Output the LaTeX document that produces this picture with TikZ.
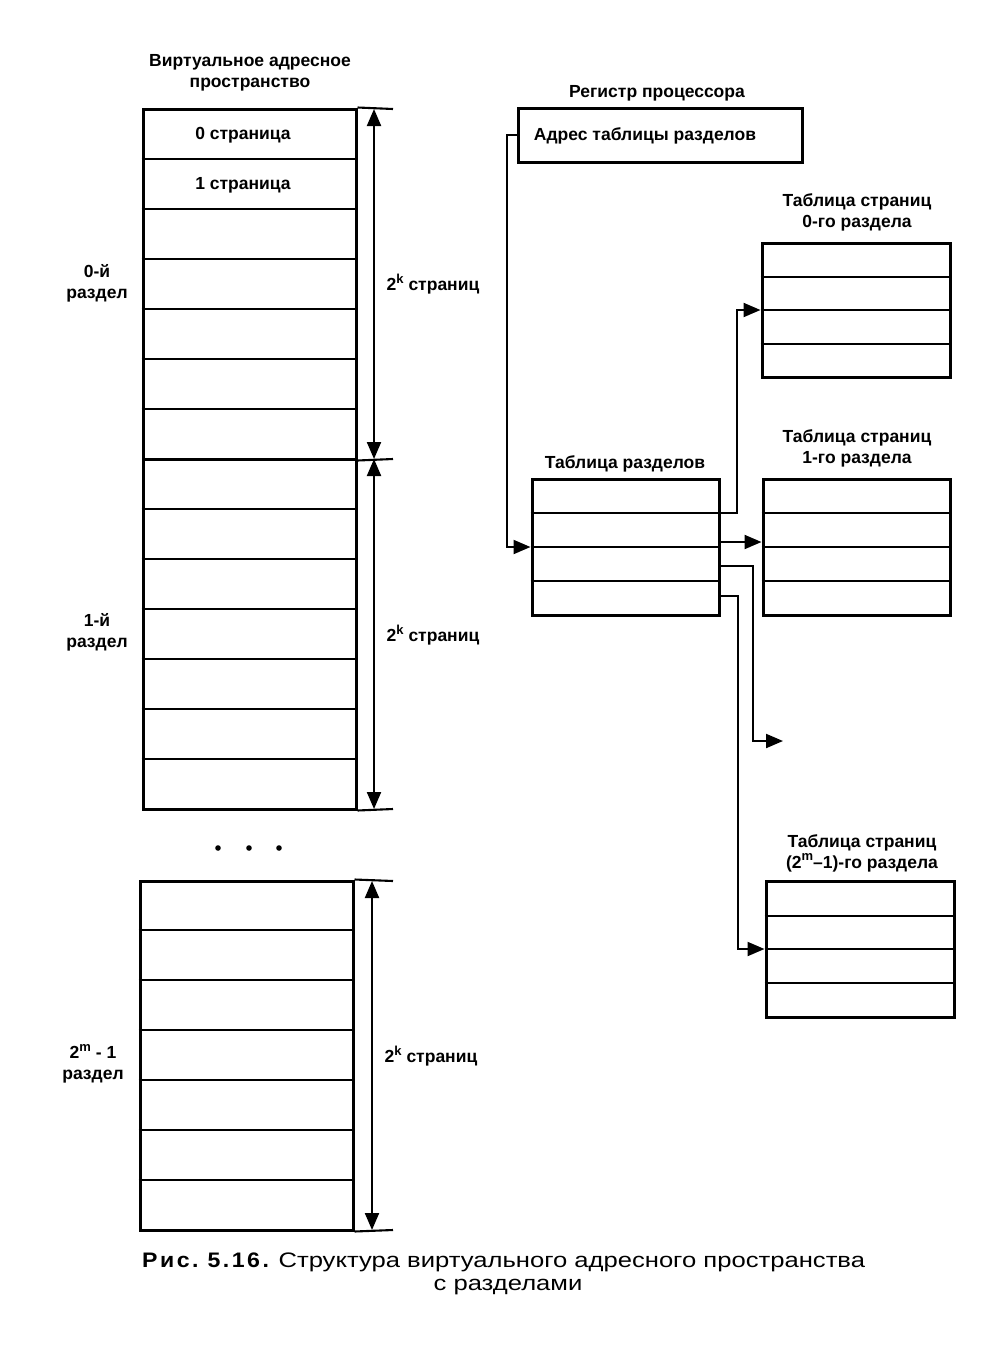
\documentclass[tikz,border=0pt]{standalone}
\usepackage{fontspec}
\setmainfont{Liberation Sans}
\newfontfamily\lblfont{Liberation Sans Bold}
\newfontfamily\capfont[FakeStretch=1.22]{Liberation Sans}
\newfontfamily\capboldfont[FakeStretch=1.1,LetterSpace=12]{Liberation Sans Bold}
\newcommand{\supk}[1]{\raisebox{0.42em}{\fontsize{13}{13}\selectfont #1}}
\usetikzlibrary{arrows.meta}
\begin{document}
\begin{tikzpicture}[x=1pt,y=-1pt,
  box/.style={draw, line width=3pt, inner sep=0pt},
  rowline/.style={line width=2.1pt},
  tick/.style={line width=2.1pt},
  conn/.style={line width=2.1pt, -{Triangle[length=17pt,width=14pt]}},
  dim/.style={line width=2.1pt, {Triangle[length=17pt,width=14pt]}-{Triangle[length=17pt,width=14pt]}},
  lbl/.style={font=\lblfont\fontsize{17.5}{21}\selectfont, align=center, inner sep=0pt},
  caplbl/.style={font=\capfont\fontsize{21}{25}\selectfont, inner sep=0pt},
  dotmark/.style={fill=black}
]
\useasboundingbox (0,0) rectangle (1003,1368);

% ---------- virtual address space ----------
\node[lbl] (vastitle) at (250,73) {Виртуальное адресное\\пространство};

\node[box, minimum width=213pt, minimum height=350pt] (p0) at (249.5,284) {};
\node[box, minimum width=213pt, minimum height=350pt] (p1) at (249.5,634) {};
\node[box, minimum width=213pt, minimum height=349pt] (pl) at (246.5,1055.5) {};

\foreach \yy in {159,209,259,309,359,409}
  \draw[rowline] (p0.west |- 0,\yy) -- (p0.east |- 0,\yy);
\foreach \yy in {509,559,609,659,709,759}
  \draw[rowline] (p1.west |- 0,\yy) -- (p1.east |- 0,\yy);
\foreach \yy in {930,980,1030,1080,1130,1180}
  \draw[rowline] (pl.west |- 0,\yy) -- (pl.east |- 0,\yy);

\node[lbl] (pg0) at (243,135) {0 страница};
\node[lbl] (pg1) at (243,185) {1 страница};

\node[lbl] (lab0) at (97,283) {0-й\\раздел};
\node[lbl] (lab1) at (97,632) {1-й\\раздел};
\node[lbl] (labl) at (93,1064) {2\supk{m} - 1\\раздел};

% ticks
\coordinate (t0a) at (393,109);
\coordinate (t0b) at (393,459);
\coordinate (t1b) at (393,809);
\coordinate (tla) at (393,881);
\coordinate (tlb) at (393,1230);
\draw[tick] (p0.north east) -- (t0a);
\draw[tick] (p0.south east) -- (t0b);
\draw[tick] (p1.south east) -- (t1b);
\draw[tick] (pl.north east) -- (tla);
\draw[tick] (pl.south east) -- (tlb);

% dimension arrows
\coordinate (d0a) at (374,109);
\coordinate (d0b) at (374,459);
\coordinate (d1a) at (374,459);
\coordinate (d1b) at (374,809);
\coordinate (dla) at (372,881);
\coordinate (dlb) at (372,1230);
\draw[dim] (d0a) -- (d0b);
\draw[dim] (d1a) -- (d1b);
\draw[dim] (dla) -- (dlb);

\node[lbl] (k0) at (433,284) {2\supk{k} страниц};
\node[lbl] (k1) at (433,635) {2\supk{k} страниц};
\node[lbl] (kl) at (431,1056) {2\supk{k} страниц};

% dots
\fill[dotmark] (218,848) circle (2.8);
\fill[dotmark] (249,848) circle (2.8);
\fill[dotmark] (279,848) circle (2.8);

% ---------- register ----------
\node[lbl] (regtitle) at (657,93) {Регистр процессора};
\node[box, minimum width=284pt, minimum height=54pt] (reg) at (660,135) {};
\node[lbl] (regtxt) at (645,136) {Адрес таблицы разделов};

% ---------- partition table ----------
\node[lbl] (pttitle) at (625,464) {Таблица разделов};
\node[box, minimum width=187pt, minimum height=136pt] (pt) at (625.5,547) {};
\foreach \yy in {513,547,581}
  \draw[rowline] (pt.west |- 0,\yy) -- (pt.east |- 0,\yy);

% ---------- page tables ----------
\node[lbl] (t0title) at (857,212) {Таблица страниц\\0-го раздела};
\node[box, minimum width=188pt, minimum height=134pt] (t0) at (856,310) {};
\foreach \yy in {277,310,344}
  \draw[rowline] (t0.west |- 0,\yy) -- (t0.east |- 0,\yy);

\node[lbl] (t1title) at (857,448) {Таблица страниц\\1-го раздела};
\node[box, minimum width=187pt, minimum height=136pt] (t1) at (856.5,547) {};
\foreach \yy in {513,547,581}
  \draw[rowline] (t1.west |- 0,\yy) -- (t1.east |- 0,\yy);

\node[lbl] (tltitle) at (862,853) {Таблица страниц\\(2\supk{m}–1)-го раздела};
\node[box, minimum width=188pt, minimum height=136pt] (tl) at (860,949) {};
\foreach \yy in {916,949,983}
  \draw[rowline] (tl.west |- 0,\yy) -- (tl.east |- 0,\yy);

% ---------- connectors ----------
\coordinate (c1) at (507,547);
\draw[conn] (reg.west) -| (c1) -- (pt.west);
\coordinate (c2) at (737,310);
\draw[conn] (pt.east |- 0,513) -| (c2) -- (t0.west);
\draw[conn] (pt.east |- 0,542) -- (t1.west |- 0,542);
\coordinate (c4) at (753,741);
\coordinate (free) at (783,741);
\draw[conn] (pt.east |- 0,566) -| (c4) -- (free);
\coordinate (c5) at (738,949);
\draw[conn] (pt.east |- 0,596) -| (c5) -- (tl.west);

% ---------- caption ----------
\node[caplbl, anchor=west] (cap1) at (142,1262) {{\capboldfont Рис.\ 5.16.} Структура виртуального адресного пространства};
\node[caplbl] (cap2) at (508,1287) {с разделами};
\end{tikzpicture}
\end{document}
